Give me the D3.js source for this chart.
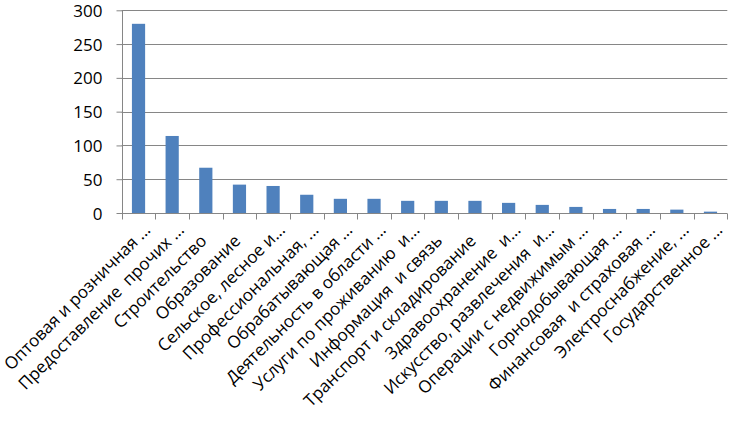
<!DOCTYPE html>
<html><head><meta charset="utf-8">
<script src="https://cdn.jsdelivr.net/npm/d3@7"></script>
<style>body{margin:0;background:#fff}svg{display:block}text{white-space:pre}</style>
</head><body>
<svg id="c" width="736" height="421"></svg>
<script>
const categories = [
  "Оптовая и розничная ...",
  "Предоставление  прочих ...",
  "Строительство",
  "Образование",
  "Сельское, лесное и...",
  "Профессиональная, ...",
  "Обрабатывающая ...",
  "Деятельность в области ...",
  "Услуги по проживанию  и...",
  "Информация  и связь",
  "Транспорт и складирование",
  "Здравоохранение  и...",
  "Искусство, развлечения  и...",
  "Операции с недвижимым ...",
  "Горнодобывающая ...",
  "Финансовая  и страховая ...",
  "Электроснабжение, ...",
  "Государственное ..."
];
const values = [280, 114, 67, 42, 40, 27, 21, 21, 18, 18, 18, 15, 12, 9, 6, 6, 5, 2];
const yTicks = [0, 50, 100, 150, 200, 250, 300];

(function () {
const svg = d3.select("#c");
const pl = 121.7, pr = 727.3, pt = 10.3, pb = 213;
const xb = d3.scaleBand().domain(categories).range([pl, pr]);
const y = d3.scaleLinear().domain([0, 300]).range([pb, pt]);
const grid = "#868686";
const font = "'Open Sans', sans-serif";

// gridlines
svg.append("g").selectAll("line").data(yTicks.filter(d => d > 0)).join("line")
  .attr("x1", pl).attr("x2", pr)
  .attr("y1", d => Math.round(y(d)) + 0.5).attr("y2", d => Math.round(y(d)) + 0.5)
  .attr("stroke", grid).attr("stroke-width", 1);

// bars
svg.append("g").selectAll("rect").data(values).join("rect")
  .attr("x", (d, i) => xb(categories[i]) + xb.bandwidth() / 2 - 6.6)
  .attr("width", 13.2)
  .attr("y", d => y(d))
  .attr("height", d => pb - y(d))
  .attr("fill", "#4f81bd");

// y axis
const yAxis = d3.axisLeft(y).tickValues(yTicks).tickSize(6).tickPadding(14);
const gy = svg.append("g").attr("transform", `translate(${Math.round(pl) + 0.5},0)`).call(yAxis);
gy.select(".domain").attr("stroke", grid).attr("d", `M0,${y(300)}V${pb}`);
gy.selectAll(".tick line").attr("stroke", grid);
gy.selectAll(".tick text").attr("font-family", font).attr("font-size", 17).attr("fill", "#000").attr("dy", "0.36em");

// x axis
const xAxis = d3.axisBottom(xb).tickSize(0).tickFormat("");
const gx = svg.append("g").attr("transform", `translate(0,${Math.round(pb) + 0.5})`).call(xAxis);
gx.select(".domain").attr("stroke", grid).attr("d", `M${pl},0H${pr}`);
gx.selectAll(".tick").remove();
const edges = d3.range(categories.length + 1).map(i => pl + i * xb.step());
gx.selectAll("line.t").data(edges).join("line").attr("class", "t")
  .attr("x1", d => Math.round(d) + 0.5).attr("x2", d => Math.round(d) + 0.5)
  .attr("y1", 0).attr("y2", 6).attr("stroke", grid);

// x labels
svg.append("g").selectAll("text").data(categories).join("text")
  .attr("transform", d => {
    const cx = xb(d) + xb.bandwidth() / 2;
    const trunc = d.endsWith("...");
    const px = trunc ? cx + 13 : cx + 2;
    const py = trunc ? 231 : 242;
    return `translate(${px},${py}) rotate(-45)`;
  })
  .attr("text-anchor", "end")
  .attr("font-family", font).attr("font-size", 17).attr("fill", "#000")
  .text(d => d);
})();
</script>
</body></html>
